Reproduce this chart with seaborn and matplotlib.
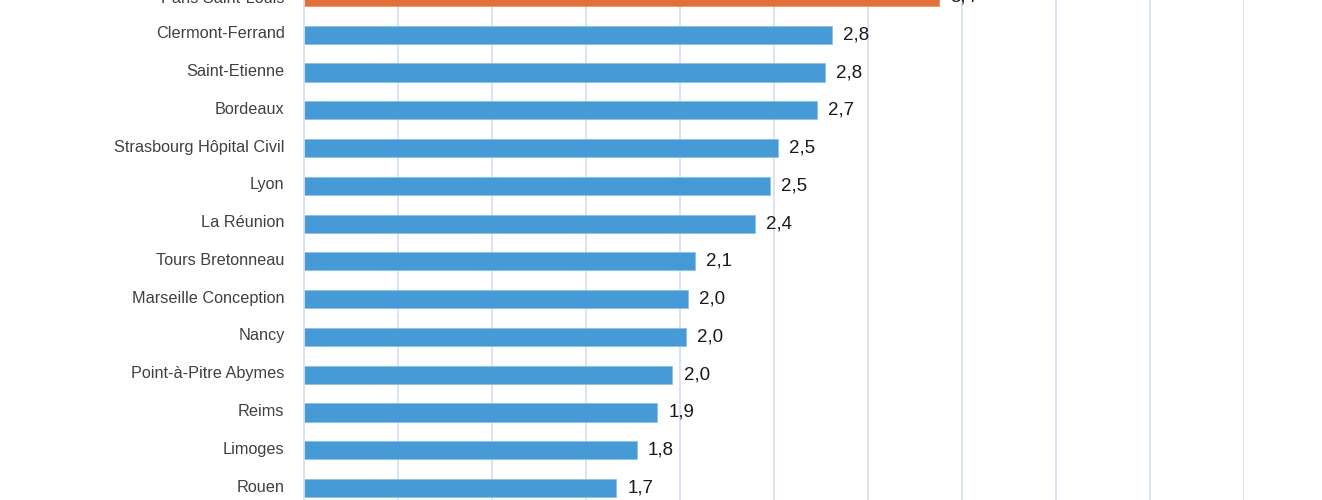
import matplotlib
matplotlib.use("Agg")
import matplotlib.pyplot as plt
import matplotlib.transforms as mtransforms
import seaborn as sns

hospitals = ["Paris Saint-Louis", "Clermont-Ferrand", "Saint-Etienne", "Bordeaux",
             "Strasbourg Hôpital Civil", "Lyon", "La Réunion", "Tours Bretonneau",
             "Marseille Conception", "Nancy", "Point-à-Pitre Abymes", "Reims",
             "Limoges", "Rouen"]
values = [3.38, 2.81, 2.77, 2.73, 2.52, 2.48, 2.40, 2.08, 2.04, 2.03, 1.96, 1.88, 1.77, 1.66]
highlight = "Paris Saint-Louis"

blue = "#469BD7"
orange = "#E2703A"
colors = {h: (orange if h == highlight else blue) for h in hospitals}

sns.set_style("white")
plt.rcParams["font.family"] = ["Liberation Sans", "DejaVu Sans"]

fig = plt.figure(figsize=(13.22, 5.0), dpi=100)
ax = fig.add_axes([0.23, 0.0, 0.711, 1.0])

sns.barplot(x=values, y=hospitals, hue=hospitals, palette=colors, orient="h",
            width=0.48, legend=False, ax=ax, saturation=1,
            edgecolor="#8DC0E8", linewidth=0.6)
for p, h in zip(ax.patches, hospitals):
    if h == highlight:
        p.set_edgecolor("#F09060")

# axes taller than the figure: the chart is a crop of a larger one
px_per_cat = 37.8
top_px = -3 - 0.5 * px_per_cat
bottom_px = 488 + 0.5 * px_per_cat
ax.set_position([304 / 1322, (500 - bottom_px) / 500, 940 / 1322, (bottom_px - top_px) / 500])
ax.set_ylim(len(hospitals) - 0.5, -0.5)
ax.set_xlim(0, 5)
ax.set_xticks([i * 0.5 for i in range(11)])

ax.xaxis.grid(True, color="#D5E1F2", linewidth=1.3)
ax.set_axisbelow(True)
for s in ["top", "right", "bottom"]:
    ax.spines[s].set_visible(False)
ax.spines["left"].set_color("#D5E1F2")
ax.spines["left"].set_linewidth(1.3)

ax.tick_params(axis="x", length=0, labelbottom=False)
ax.tick_params(axis="y", length=0, pad=14, labelsize=11.7, labelcolor="#404040")
# nudge category labels up a little, like the original (top one stays so its cut part shows)
shift = mtransforms.ScaledTranslation(0, 2.5 / 100, fig.dpi_scale_trans)
for t in ax.get_yticklabels()[1:]:
    t.set_transform(t.get_transform() + shift)
ax.set_xlabel("")
ax.set_ylabel("")

for cont in ax.containers:
    ax.bar_label(cont, labels=[f"{v:.1f}".replace(".", ",") for v in cont.datavalues],
                 padding=8, fontsize=13.5, color="#1a1a1a")

fig.savefig("out.png", dpi=100)
